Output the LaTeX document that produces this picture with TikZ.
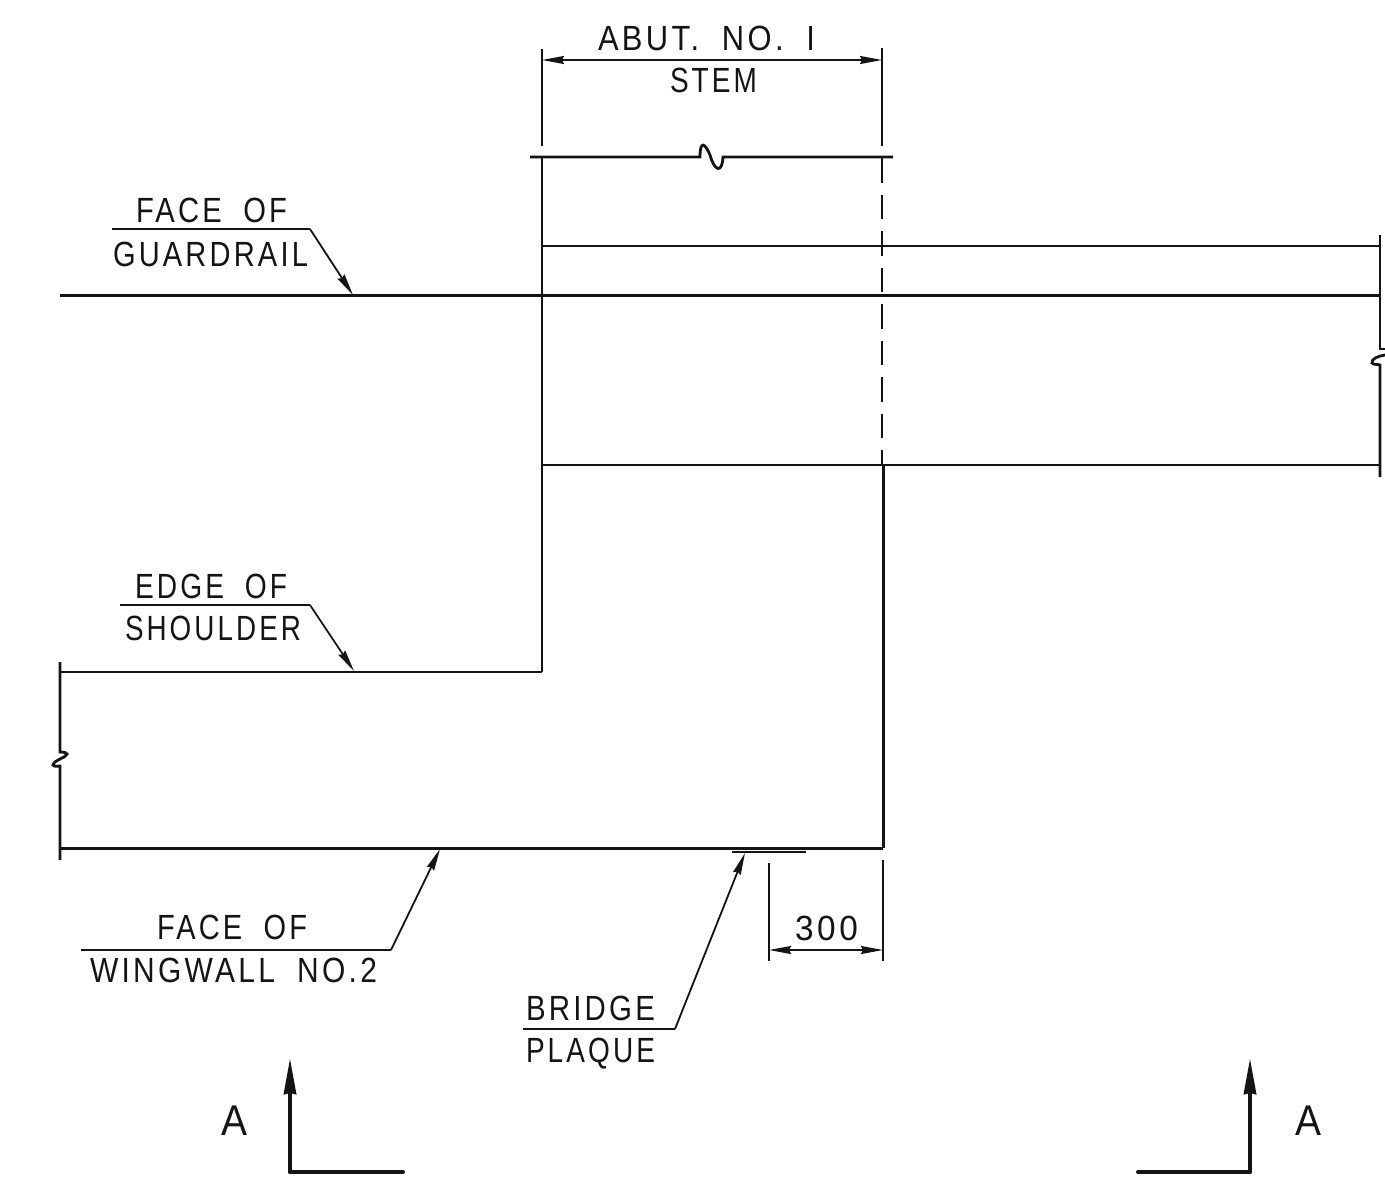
\documentclass[tikz,border=0pt]{standalone}
\usepackage{fontspec}
\usepackage{graphicx}
\setmainfont{Liberation Sans}
\newfontfamily\draftfont[LetterSpace=11,WordSpace=1.9]{Liberation Sans}
\usetikzlibrary{arrows.meta}
\definecolor{ink}{gray}{0.08}
\tikzset{
  thin line/.style={draw=ink,line width=1.8pt},
  main line/.style={draw=ink,line width=2.8pt},
  heavy line/.style={draw=ink,line width=3pt},
  sect line/.style={draw=ink,line width=4pt,line cap=round,line join=round},
  leader/.style={thin line,-{Stealth[length=22pt,width=8pt,inset=2pt]}},
  dim/.style={thin line,{Stealth[length=22pt,width=8pt,inset=2pt]}-{Stealth[length=22pt,width=8pt,inset=2pt]}},
  section/.style={sect line,-{Stealth[length=36pt,width=12pt,inset=1pt]}},
  centre dash/.style={thin line,dash pattern=on 24.5pt off 12pt},
  lbl/.style={anchor=base west,inner sep=0pt,outer sep=0pt,text=ink}
}
% name, left, right, baseline, text
\newcommand{\lab}[5]{\node[lbl] (#1) at (#2,#4) {\resizebox{\dimexpr#3pt-#2pt\relax}{\height}{\fontsize{35pt}{36pt}\draftfont #5}};}
\begin{document}
\begin{tikzpicture}[x=1pt,y=-1pt]
\useasboundingbox (0,0) rectangle (1385,1178);
% key points
\coordinate (dl) at (542,60); \coordinate (dr) at (882,60);
\coordinate (d3l) at (769,950); \coordinate (d3r) at (883,950);
% dimension top
\draw[thin line] (542,49) -- (542,146);
\draw[thin line] (882,48) -- (882,146);
\draw[dim] (dl) -- (dr);
% break line at top
\draw[main line] (530,157) -- (700,157) .. controls (700,140) and (705,143) .. (710,155) .. controls (714,170) and (722,175) .. (723,157) -- (893,157);
% abutment
\draw[main line] (542,157) -- (542,672);
\draw[centre dash] (882,158) -- (882,465);
\draw[heavy line] (883,465) -- (883,848);
\draw[thin line] (883,860) -- (883,961);
% horizontals
\draw[main line] (542,246) -- (1380,246);
\draw[heavy line] (60,295) -- (1380,295);
\draw[main line] (542,465) -- (1380,465);
\draw[main line] (60,672) -- (542,672);
\draw[heavy line] (60,848) -- (883,848);
% right break
\draw[main line] (1380,235) -- (1380,349) -- (1385,349);
\draw[main line] (1385,355) .. controls (1378,356) and (1371,359) .. (1372,363) .. controls (1373,365) and (1378,364) .. (1380,365) -- (1380,477);
% left break
\draw[main line] (60,662) -- (60,752) .. controls (62,752) and (66,752) .. (67,754) .. controls (66,758) and (55,759) .. (53,765) .. controls (54,767) and (58,766) .. (60,766) -- (60,860);
% leaders
\draw[thin line] (112,229) -- (310,229);
\coordinate (g1) at (310,229); \coordinate (g2) at (353,295);
\draw[leader] (g1) -- (g2);
\draw[thin line] (120,605) -- (310,605);
\coordinate (e1) at (310,605); \coordinate (e2) at (354,671);
\draw[leader] (e1) -- (e2);
\draw[thin line] (81,950) -- (391,950);
\coordinate (w1) at (391,950); \coordinate (w2) at (440,849);
\draw[leader] (w1) -- (w2);
\draw[thin line] (523,1029) -- (675,1029);
\coordinate (b1) at (675,1029); \coordinate (b2) at (745,853);
\draw[leader] (b1) -- (b2);
\draw[main line] (732,852) -- (806,852);
% 300
\draw[thin line] (769,863) -- (769,961);
\draw[dim] (d3l) -- (d3r);
% section marks
\coordinate (sl) at (290,1172); \coordinate (sr) at (1250,1172);
\draw[sect line] (403,1172) -- (sl);
\draw[section] (sl) -- (290,1058);
\draw[sect line] (1138,1172) -- (sr);
\draw[section] (sr) -- (1250,1058);
% labels
\lab{t1}{598}{815}{50}{ABUT. NO. I}
\lab{t2}{670}{757}{92}{STEM}
\lab{t3}{136}{287}{222}{FACE OF}
\lab{t4}{113}{308}{266}{GUARDRAIL}
\lab{t5}{135}{287}{598}{EDGE OF}
\lab{t6}{125}{301}{640}{SHOULDER}
\lab{t7}{157}{307}{939}{FACE OF}
\lab{t8}{90}{377}{982}{WINGWALL NO.2}
\lab{t9}{526}{655}{1020}{BRIDGE}
\lab{t10}{526}{655}{1062}{PLAQUE}
\lab{t11}{795}{858}{940}{300}
\node[lbl] (a1) at (221,1135) {\resizebox{26pt}{\height}{\fontsize{43pt}{44pt}\selectfont A}};
\node[lbl] (a2) at (1295,1135) {\resizebox{26pt}{\height}{\fontsize{43pt}{44pt}\selectfont A}};
\end{tikzpicture}
\end{document}
